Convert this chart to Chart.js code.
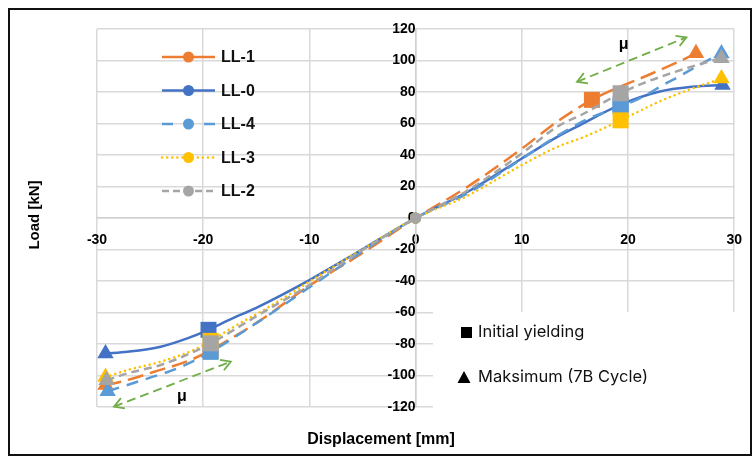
<!DOCTYPE html>
<html>
<head>
<meta charset="utf-8">
<script src="https://cdn.jsdelivr.net/npm/chart.js@4.4.1/dist/chart.umd.min.js"></script>
<style>
html,body{margin:0;padding:0;background:#fff;}
#wrap{width:756px;height:460px;position:relative;}
</style>
</head>
<body>
<div id="wrap"><canvas id="c" width="756" height="460"></canvas></div>
<script>
// ---------- data ----------
const seriesNames = ['LL-1', 'LL-0', 'LL-4', 'LL-3', 'LL-2'];
const xTickValues = [-30, -20, -10, 0, 10, 20, 30];
const yTickValues = [-120, -100, -80, -60, -40, -20, 0, 20, 40, 60, 80, 100, 120];

const ll1X = [-29.2, -27.7, -24.6, -21.2, -19.3, -17.1, -14.8, -10, -5.4, 0, 4.7, 10, 13.3, 16.6, 22.3, 24.8, 26.4];
const ll1Y = [-106, -103.9, -97.6, -90.2, -84, -75.4, -65.8, -43, -24, 0, 19, 44, 61, 75, 91.9, 99.3, 104.6];
const ll1Yield = [4, 13];

const ll0X = [-29.2, -27.1, -24, -21.5, -19.5, -17.5, -15, -10, -5.4, 0, 5, 10, 13.3, 15.2, 19.3, 22.9, 26.1, 28.9];
const ll0Y = [-86, -84.9, -81.7, -76.4, -71, -64.5, -57, -39.4, -21.4, 0, 17, 37.8, 51.4, 58, 72, 80.2, 83.4, 84.5];
const ll0Yield = [4, 14];

const ll4X = [-29, -25.2, -22.4, -19.3, -14.6, -10, -5.4, 0, 5, 10, 13.3, 16.4, 19.3, 21.4, 23.3, 24.5, 27, 28.8];
const ll4Y = [-110, -101.8, -95.4, -85, -65, -44, -23, 0, 16, 37.5, 52, 63.5, 70.7, 77, 84.4, 88.7, 98.2, 104.5];
const ll4Yield = [3, 12];

const ll3X = [-29.2, -27.1, -24, -20.9, -19.3, -17.1, -13.7, -10, -5.4, 0, 4.7, 10, 13.3, 15.9, 19.3, 22.9, 26.1, 28.8];
const ll3Y = [-101, -96.5, -91.2, -83.8, -78, -69, -56, -40.4, -21.4, 0, 13.5, 33.6, 45, 51.6, 62, 73.8, 82.3, 88.5];
const ll3Yield = [4, 14];

const ll2X = [-29.1, -27.1, -24, -20.9, -19.3, -14.8, -10, -5.4, 0, 4.7, 10, 13.3, 15.9, 19.3, 21.4, 24.5, 27.6, 28.8];
const ll2Y = [-103, -98.6, -93.3, -85, -79.6, -61.6, -42.5, -22, 0, 16.7, 41, 57.8, 66.5, 79.2, 85.5, 92.9, 99.3, 101.5];
const ll2Yield = [4, 13];

const seriesX = [ll1X, ll0X, ll4X, ll3X, ll2X];
const seriesY = [ll1Y, ll0Y, ll4Y, ll3Y, ll2Y];
const seriesYield = [ll1Yield, ll0Yield, ll4Yield, ll3Yield, ll2Yield];

const markerLabels = ['Initial yielding', 'Maksimum (7B Cycle)'];
const muLabel = 'μ';
// ductility arrows (data units): [x1, y1, x2, y2]
const muArrowUpper = [15.2, 86.5, 25.5, 114.7];
const muArrowLower = [-28.4, -119.8, -17.4, -91.2];
const muTextUpper = [19.6, 110];
const muTextLower = [-22, -113.5];

// ---------- styles ----------
const colors = ['#ED7D31', '#4472C4', '#5B9BD5', '#FFC000', '#A5A5A5'];
const dashes = [[16, 7], [], [12, 8], [0.1, 5], [8, 5]];
const legendDashes = [[], [], [11, 31], [0.1, 5], [7, 4]];
const caps = ['butt', 'butt', 'butt', 'round', 'butt'];
const orders = [5, 4, 3, 2, 1];
const FONT = '"Liberation Sans", Arial, sans-serif';

function styleFor(i) {
  return function (ctx) {
    const idx = ctx.dataIndex;
    const n = seriesX[i].length;
    if (idx === 0 || idx === n - 1) return 'triangle';
    if (seriesYield[i].includes(idx)) return 'rect';
    return 'circle';
  };
}
function radiusFor(i) {
  return function (ctx) {
    const idx = ctx.dataIndex;
    const n = seriesX[i].length;
    if (idx === 0 || idx === n - 1) return 9.5;
    if (seriesYield[i].includes(idx)) return 11.3;
    if (seriesX[i][idx] === 0) return 5.5;
    return 0;
  };
}

const datasets = seriesNames.map((name, i) => ({
  label: name,
  data: seriesX[i].map((x, k) => ({ x: x, y: seriesY[i][k] })),
  borderColor: colors[i],
  backgroundColor: colors[i],
  borderWidth: 2.5,
  borderDash: dashes[i],
  borderCapStyle: caps[i],
  cubicInterpolationMode: 'monotone',
  pointStyle: styleFor(i),
  pointRadius: radiusFor(i),
  pointBorderWidth: 0,
  pointBackgroundColor: colors[i],
  pointBorderColor: colors[i],
  order: orders[i],
  clip: false,
  fill: false
}));

function drawArrow(ctx, x1, y1, x2, y2) {
  ctx.save();
  ctx.strokeStyle = '#70AD47';
  ctx.lineWidth = 1.8;
  ctx.setLineDash([9, 5]);
  ctx.beginPath();
  ctx.moveTo(x1, y1);
  ctx.lineTo(x2, y2);
  ctx.stroke();
  ctx.setLineDash([]);
  const ang = Math.atan2(y2 - y1, x2 - x1);
  const L = 11, a = Math.PI / 6;
  [[x2, y2, ang + Math.PI], [x1, y1, ang]].forEach(([tx, ty, base]) => {
    ctx.beginPath();
    ctx.moveTo(tx + L * Math.cos(base + a), ty + L * Math.sin(base + a));
    ctx.lineTo(tx, ty);
    ctx.lineTo(tx + L * Math.cos(base - a), ty + L * Math.sin(base - a));
    ctx.stroke();
  });
  ctx.restore();
}

const overlay = {
  id: 'overlay',
  beforeDraw(chart) {
    const ctx = chart.ctx;
    ctx.save();
    ctx.fillStyle = '#fff';
    ctx.fillRect(0, 0, chart.width, chart.height);
    ctx.restore();
  },
  afterDatasetsDraw(chart) {
    const ctx = chart.ctx;
    const xs = chart.scales.x, ys = chart.scales.y;
    ctx.save();

    // marker-explanation box (white, covers grid)
    ctx.fillStyle = '#fff';
    ctx.fillRect(433, 312, 305, 100);
    ctx.fillStyle = '#000';
    ctx.fillRect(461, 327, 11, 11);
    ctx.beginPath();
    ctx.moveTo(464, 371);
    ctx.lineTo(470.5, 383);
    ctx.lineTo(457.5, 383);
    ctx.closePath();
    ctx.fill();
    ctx.font = '16.5px Inter, "Noto Sans", sans-serif';
    ctx.textBaseline = 'middle';
    ctx.textAlign = 'left';
    ctx.fillStyle = '#111';
    ctx.fillText(markerLabels[0], 478, 332);
    ctx.fillText(markerLabels[1], 478, 377);

    // series legend (upper left)
    seriesNames.forEach((name, i) => {
      const yy = 57 + i * 33.5;
      ctx.save();
      ctx.strokeStyle = colors[i];
      ctx.lineWidth = 2.5;
      ctx.setLineDash(legendDashes[i]);
      ctx.lineCap = caps[i];
      ctx.beginPath();
      ctx.moveTo(162, yy);
      ctx.lineTo(215, yy);
      ctx.stroke();
      ctx.restore();
      ctx.fillStyle = colors[i];
      ctx.beginPath();
      ctx.arc(188.5, yy, 5.5, 0, Math.PI * 2);
      ctx.fill();
      ctx.fillStyle = '#111';
      ctx.font = 'bold 16px ' + FONT;
      ctx.textBaseline = 'middle';
      ctx.textAlign = 'left';
      ctx.fillText(name, 221, yy + 1);
    });

    // ductility arrows
    const px = v => xs.getPixelForValue(v), py = v => ys.getPixelForValue(v);
    drawArrow(ctx, px(muArrowUpper[0]), py(muArrowUpper[1]), px(muArrowUpper[2]), py(muArrowUpper[3]));
    drawArrow(ctx, px(muArrowLower[0]), py(muArrowLower[1]), px(muArrowLower[2]), py(muArrowLower[3]));
    ctx.fillStyle = '#000';
    ctx.font = 'bold 16px ' + FONT;
    ctx.textAlign = 'center';
    ctx.textBaseline = 'middle';
    ctx.fillText(muLabel, px(muTextUpper[0]), py(muTextUpper[1]));
    ctx.fillText(muLabel, px(muTextLower[0]), py(muTextLower[1]));

    // axis titles
    ctx.font = 'bold 16px ' + FONT;
    ctx.fillText('Displacement [mm]', 381, 440);
    ctx.font = 'bold 15px ' + FONT;
    ctx.save();
    ctx.translate(35, 215);
    ctx.rotate(-Math.PI / 2);
    ctx.fillText('Load [kN]', 0, 0);
    ctx.restore();

    // outer frame
    ctx.strokeStyle = '#111';
    ctx.lineWidth = 2;
    ctx.strokeRect(9, 9, 742, 446);
    ctx.restore();
  }
};

new Chart(document.getElementById('c'), {
  type: 'line',
  data: { datasets: datasets },
  plugins: [overlay],
  options: {
    responsive: false,
    devicePixelRatio: 1,
    animation: false,
    events: [],
    layout: { padding: { left: 97, right: 17, top: 29, bottom: 53 } },
    plugins: { legend: { display: false }, tooltip: { enabled: false }, title: { display: false } },
    scales: {
      x: {
        type: 'linear',
        min: -30, max: 30,
        position: { y: 0 },
        afterBuildTicks: s => { s.ticks = xTickValues.map(v => ({ value: v })); },
        ticks: { autoSkip: false, maxRotation: 0, padding: 14, color: '#000', font: { family: FONT, size: 14, weight: 'bold' } },
        grid: { color: '#d9d9d9', lineWidth: 1.5, drawTicks: false },
        border: { display: true, color: '#d0d0d0', width: 1.5 }
      },
      y: {
        type: 'linear',
        min: -120, max: 120,
        position: { x: 0 },
        afterBuildTicks: s => { s.ticks = yTickValues.map(v => ({ value: v })); },
        ticks: { autoSkip: false, padding: 12, color: '#000', font: { family: FONT, size: 14, weight: 'bold' } },
        grid: { color: '#d9d9d9', lineWidth: 1.5, drawTicks: false },
        border: { display: true, color: '#d0d0d0', width: 1.5 }
      }
    }
  }
});
</script>
</body>
</html>
